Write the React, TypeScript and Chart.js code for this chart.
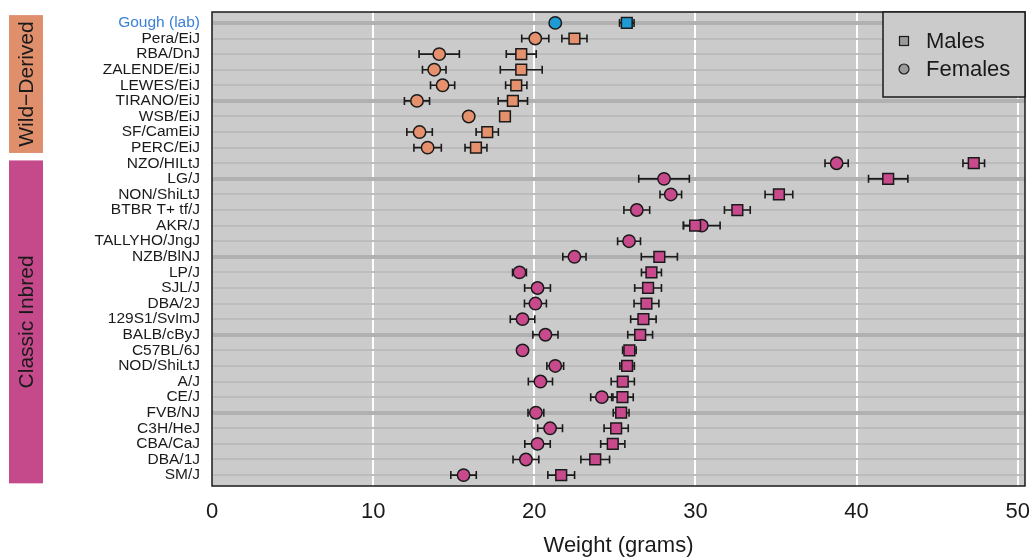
import React, { useEffect, useRef } from "react";
import { Chart, registerables } from "chart.js";

Chart.register(...registerables);

const strains = [
  "Gough (lab)", "Pera/EiJ", "RBA/DnJ", "ZALENDE/EiJ", "LEWES/EiJ", "TIRANO/EiJ", "WSB/EiJ",
  "SF/CamEiJ", "PERC/EiJ", "NZO/HILtJ", "LG/J", "NON/ShiLtJ", "BTBR T+ tf/J", "AKR/J",
  "TALLYHO/JngJ", "NZB/BlNJ", "LP/J", "SJL/J", "DBA/2J", "129S1/SvImJ", "BALB/cByJ",
  "C57BL/6J", "NOD/ShiLtJ", "A/J", "CE/J", "FVB/NJ", "C3H/HeJ", "CBA/CaJ", "DBA/1J", "SM/J",
];

const strainGroup = [
  "lab", "wild", "wild", "wild", "wild", "wild", "wild", "wild", "wild",
  "classic", "classic", "classic", "classic", "classic", "classic", "classic", "classic",
  "classic", "classic", "classic", "classic", "classic", "classic", "classic", "classic",
  "classic", "classic", "classic", "classic", "classic",
];

const femaleMean = [
  21.3, 20.06, 14.1, 13.79, 14.31, 12.72, 15.93, 12.88, 13.38, 38.76, 28.05, 28.47, 26.36, 30.39,
  25.88, 22.49, 19.08, 20.2, 20.07, 19.27, 20.69, 19.27, 21.3, 20.38, 24.19, 20.1, 20.98, 20.2,
  19.48, 15.61,
];
const femaleSE = [
  0.2, 0.84, 1.25, 0.73, 0.75, 0.78, 0, 0.79, 0.85, 0.72, 1.57, 0.67, 0.8, 1.14,
  0.71, 0.72, 0.43, 0.8, 0.68, 0.76, 0.78, 0.3, 0.52, 0.75, 0.69, 0.49, 0.77, 0.79,
  0.8, 0.79,
];
const maleMean = [
  25.74, 22.49, 19.19, 19.19, 18.88, 18.67, 18.18, 17.08, 16.38, 47.27, 41.96, 35.18, 32.6, 29.98,
  null, 27.76, 27.27, 27.06, 26.96, 26.77, 26.57, 25.9, 25.76, 25.49, 25.47, 25.39, 25.08, 24.87,
  23.78, 21.67,
];
const maleSE = [
  0.45, 0.78, 0.93, 1.3, 0.66, 0.91, 0, 0.69, 0.68, 0.67, 1.22, 0.86, 0.8, 0.72,
  0, 1.12, 0.62, 0.83, 0.77, 0.79, 0.77, 0.42, 0.45, 0.72, 0.67, 0.49, 0.75, 0.75,
  0.89, 0.83,
];

const xTicks = [0, 10, 20, 30, 40, 50];
const xTitle = "Weight (grams)";
const groupBands = [
  { label: "Wild\u2212Derived", first: 0, last: 8, key: "wild" },
  { label: "Classic Inbred", first: 9, last: 29, key: "classic" },
];
const legendLabels = ["Males", "Females"];

const FONT = "'Liberation Sans', Arial, Helvetica, sans-serif";
const pointColor: Record<string, string> = { lab: "#1f9bd4", wild: "#e5916d", classic: "#c94a8c" };
const bandColor: Record<string, string> = { wild: "#df8f6c", classic: "#c44a8b" };
const INK = "#1a1a1a";

export default function App() {
  const ref = useRef<HTMLCanvasElement>(null);

  useEffect(() => {
    document.body.style.margin = "0";
    const canvas = ref.current!;

    const toPoints = (means: (number | null)[]) =>
      means
        .map((v, i) => (v == null ? null : { x: v, y: i }))
        .filter((p) => p !== null) as { x: number; y: number }[];

    const colorOf = (c: any) => pointColor[strainGroup[c.raw ? c.raw.y : 0]];

    const bgPlugin = {
      id: "bg",
      beforeDraw(chart: any) {
        const { ctx, chartArea: a } = chart;
        ctx.save();
        ctx.fillStyle = "#ffffff";
        ctx.fillRect(0, 0, chart.width, chart.height);
        ctx.fillStyle = "#cbcbcb";
        ctx.fillRect(a.left, a.top, a.right - a.left, a.bottom - a.top);
        ctx.restore();
      },
    };

    const errPlugin = {
      id: "errbars",
      beforeDatasetsDraw(chart: any) {
        const { ctx } = chart;
        const xs = chart.scales.x;
        const ys = chart.scales.y;
        ctx.save();
        ctx.strokeStyle = INK;
        ctx.lineWidth = 1.6;
        const draw = (means: (number | null)[], ses: number[]) => {
          means.forEach((m, i) => {
            if (m == null || !ses[i]) return;
            const py = ys.getPixelForValue(i);
            const x1 = xs.getPixelForValue(m - ses[i]);
            const x2 = xs.getPixelForValue(m + ses[i]);
            ctx.beginPath();
            ctx.moveTo(x1, py);
            ctx.lineTo(x2, py);
            ctx.moveTo(x1, py - 4);
            ctx.lineTo(x1, py + 4);
            ctx.moveTo(x2, py - 4);
            ctx.lineTo(x2, py + 4);
            ctx.stroke();
          });
        };
        draw(femaleMean, femaleSE);
        draw(maleMean, maleSE);
        ctx.restore();
      },
    };

    const framePlugin = {
      id: "frame",
      afterDraw(chart: any) {
        const { ctx, chartArea: a } = chart;
        const ys = chart.scales.y;
        ctx.save();
        ctx.strokeStyle = INK;
        ctx.lineWidth = 1.5;
        ctx.strokeRect(a.left, a.top, a.right - a.left, a.bottom - a.top);

        groupBands.forEach((g, gi) => {
          const top = ys.getPixelForValue(g.first - (gi === 0 ? 0.5 : 0.18));
          const bottom = ys.getPixelForValue(g.last + (gi === 0 ? 0.34 : 0.53));
          ctx.fillStyle = bandColor[g.key];
          ctx.fillRect(9, top, 34, bottom - top);
          ctx.save();
          ctx.translate(27, (top + bottom) / 2);
          ctx.rotate(-Math.PI / 2);
          ctx.fillStyle = INK;
          ctx.font = `21px ${FONT}`;
          ctx.textAlign = "center";
          ctx.textBaseline = "middle";
          ctx.fillText(g.label, 0, 0);
          ctx.restore();
        });

        const lw = 142;
        const lh = 85;
        const lx = a.right - lw;
        const ly = a.top;
        ctx.fillStyle = "#cbcbcb";
        ctx.fillRect(lx, ly, lw, lh);
        ctx.strokeStyle = INK;
        ctx.lineWidth = 1.5;
        ctx.strokeRect(lx, ly, lw, lh);
        const mx = lx + 21;
        const rows = [ly + 29, ly + 57];
        ctx.fillStyle = "#9a9a9a";
        ctx.lineWidth = 1.2;
        ctx.fillRect(mx - 4.5, rows[0] - 4.5, 9, 9);
        ctx.strokeRect(mx - 4.5, rows[0] - 4.5, 9, 9);
        ctx.beginPath();
        ctx.arc(mx, rows[1], 5, 0, Math.PI * 2);
        ctx.fill();
        ctx.stroke();
        ctx.fillStyle = INK;
        ctx.font = `22px ${FONT}`;
        ctx.textAlign = "left";
        ctx.textBaseline = "middle";
        legendLabels.forEach((t, i) => ctx.fillText(t, lx + 43, rows[i] + 1));
        ctx.restore();
      },
    };

    const chart = new Chart(canvas, {
      type: "scatter",
      data: {
        datasets: [
          {
            label: legendLabels[0],
            data: toPoints(maleMean),
            pointStyle: "rect",
            pointRadius: 7.6,
            pointBackgroundColor: colorOf,
            pointBorderColor: INK,
            pointBorderWidth: 1.5,
          },
          {
            label: legendLabels[1],
            data: toPoints(femaleMean),
            pointStyle: "circle",
            pointRadius: 6.2,
            pointBackgroundColor: colorOf,
            pointBorderColor: INK,
            pointBorderWidth: 1.5,
          },
        ],
      },
      options: {
        animation: false,
        responsive: false,
        maintainAspectRatio: false,
        layout: { autoPadding: false, padding: { left: 0, right: 5, top: 12, bottom: 0 } },
        plugins: {
          legend: { display: false },
          tooltip: { enabled: false },
        },
        scales: {
          x: {
            type: "linear",
            min: 0,
            max: 50.45,
            afterFit: (s: any) => {
              s.height = 73;
              s.paddingLeft = 0;
              s.paddingRight = 0;
            },
            afterBuildTicks: (s: any) => {
              s.ticks = xTicks.map((v) => ({ value: v }));
            },
            grid: {
              color: (c: any) => (c.tick && c.tick.value === 0 ? "rgba(0,0,0,0)" : "#ffffff"),
              lineWidth: 2,
              drawTicks: false,
            },
            border: { display: false },
            ticks: {
              font: { family: FONT, size: 22 },
              color: INK,
              padding: 13,
              maxRotation: 0,
              autoSkip: false,
            },
            title: {
              display: true,
              text: xTitle,
              font: { family: FONT, size: 22 },
              color: INK,
              padding: { top: 0, bottom: 0 },
            },
          },
          y: {
            type: "linear",
            reverse: true,
            min: -0.7,
            max: 29.7,
            afterFit: (s: any) => {
              s.width = 212;
              s.paddingTop = 0;
              s.paddingBottom = 0;
            },
            afterBuildTicks: (s: any) => {
              s.ticks = strains.map((_, i) => ({ value: i }));
            },
            grid: {
              color: (c: any) => (c.tick && c.tick.value % 5 === 0 ? "#b1b1b1" : "#bcbcbc"),
              lineWidth: (c: any) => (c.tick && c.tick.value % 5 === 0 ? 4 : 2),
              drawTicks: false,
            },
            border: { display: false },
            ticks: {
              callback: (v: any) => strains[v as number],
              font: { family: FONT, size: 15.5 },
              color: (c: any) => (strainGroup[c.tick.value] === "lab" ? "#3b80d8" : INK),
              padding: 12,
              autoSkip: false,
            },
          },
        },
      },
      plugins: [bgPlugin, errPlugin, framePlugin],
    } as any);

    return () => chart.destroy();
  }, []);

  return (
    <div style={{ width: 1030, height: 559 }}>
      <canvas ref={ref} width={1030} height={559} style={{ display: "block" }} />
    </div>
  );
}
